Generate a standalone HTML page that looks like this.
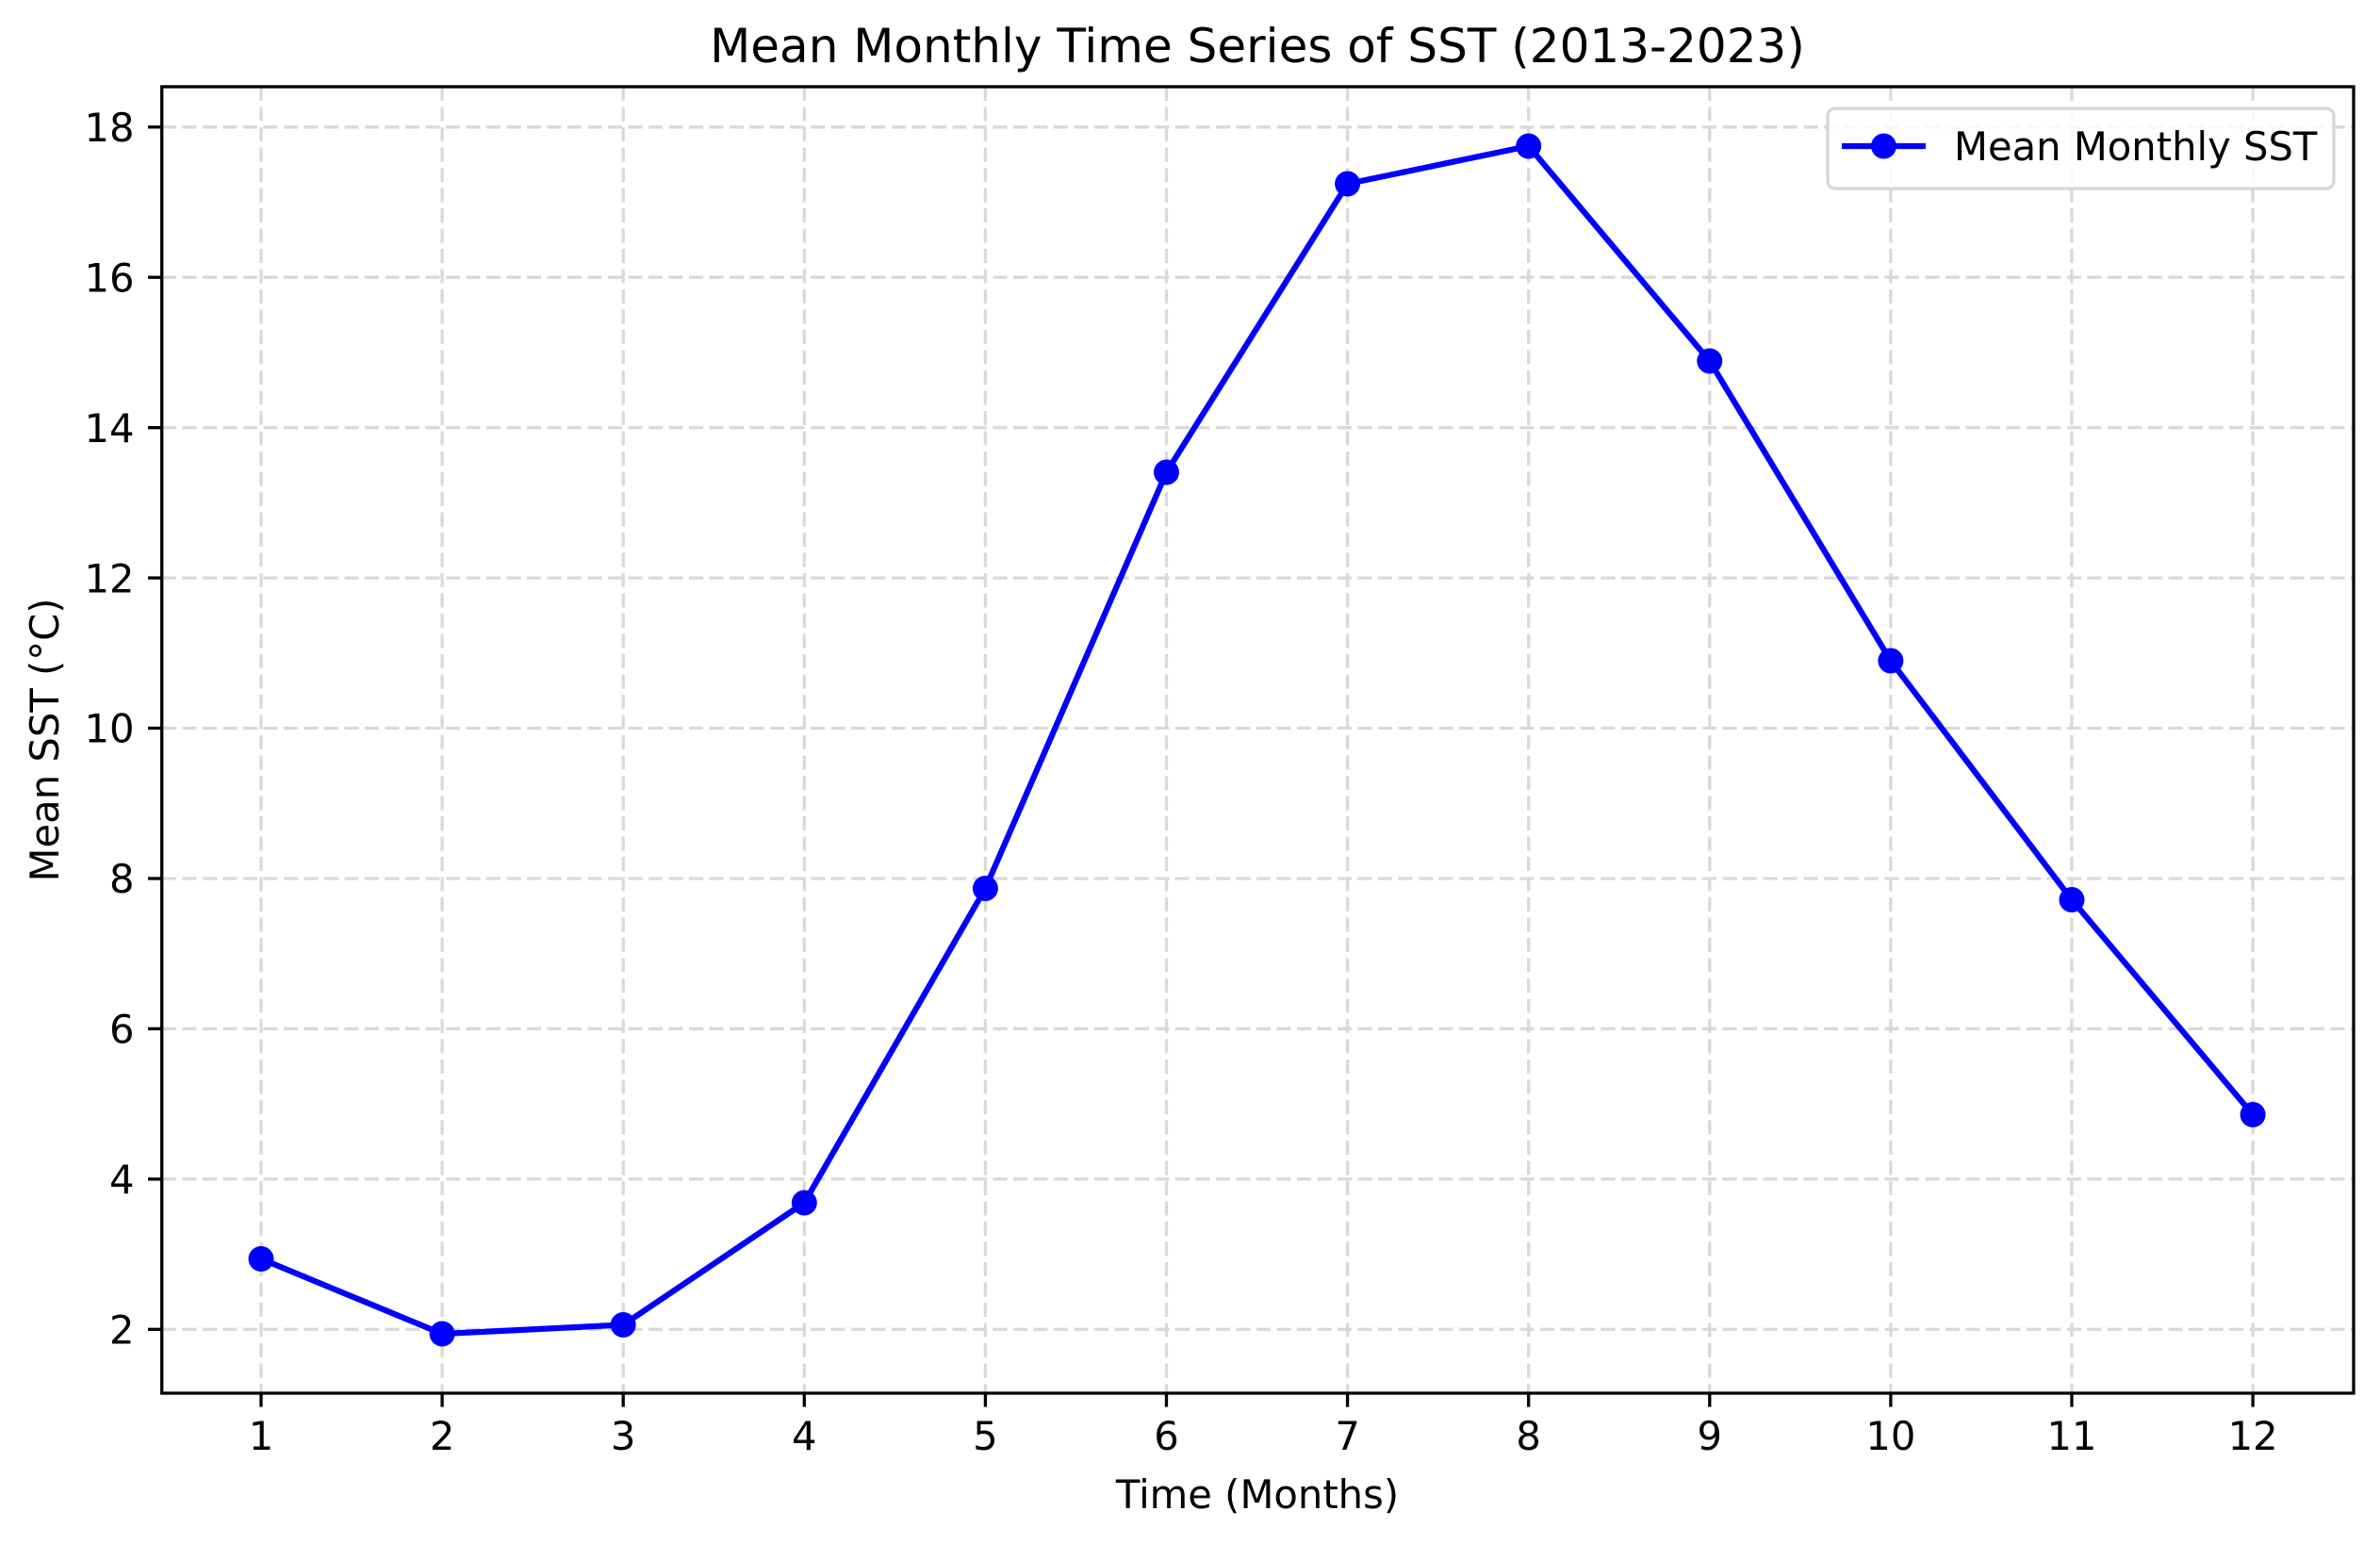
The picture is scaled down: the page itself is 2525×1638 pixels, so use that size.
<!DOCTYPE html>
<html><head><meta charset="utf-8"><style>
html,body{margin:0;padding:0;background:#fff;}
svg{display:block;}
text{font-family:"DejaVu Sans","Liberation Sans",sans-serif;fill:#000;}
</style></head><body>
<svg width="2525" height="1638" viewBox="0 0 2525 1638" xmlns="http://www.w3.org/2000/svg">
<rect width="2525" height="1638" fill="#fff"/>
<g stroke="#d9d9d9" stroke-width="3.3" stroke-dasharray="15,6.5" fill="none">
<line x1="277" y1="92" x2="277" y2="1478"/><line x1="469.1" y1="92" x2="469.1" y2="1478"/><line x1="661.2" y1="92" x2="661.2" y2="1478"/><line x1="853.3" y1="92" x2="853.3" y2="1478"/><line x1="1045.4" y1="92" x2="1045.4" y2="1478"/><line x1="1237.5" y1="92" x2="1237.5" y2="1478"/><line x1="1429.6" y1="92" x2="1429.6" y2="1478"/><line x1="1621.7" y1="92" x2="1621.7" y2="1478"/><line x1="1813.8" y1="92" x2="1813.8" y2="1478"/><line x1="2005.9" y1="92" x2="2005.9" y2="1478"/><line x1="2198" y1="92" x2="2198" y2="1478"/><line x1="2390.1" y1="92" x2="2390.1" y2="1478"/>
<line x1="172" y1="1410.3" x2="2497" y2="1410.3"/><line x1="172" y1="1250.9" x2="2497" y2="1250.9"/><line x1="172" y1="1091.4" x2="2497" y2="1091.4"/><line x1="172" y1="932" x2="2497" y2="932"/><line x1="172" y1="772.5" x2="2497" y2="772.5"/><line x1="172" y1="613.1" x2="2497" y2="613.1"/><line x1="172" y1="453.7" x2="2497" y2="453.7"/><line x1="172" y1="294.2" x2="2497" y2="294.2"/><line x1="172" y1="134.8" x2="2497" y2="134.8"/>
</g>
<polyline fill="none" stroke="#0000ff" stroke-width="6.25" stroke-linejoin="round" points="277,1335.5 469.1,1415 661.2,1405.5 853.3,1276 1045.4,942.5 1237.5,501 1429.6,195 1621.7,155 1813.8,383 2005.9,701 2198,954.5 2390.1,1182.5"/>
<g fill="#0000ff">
<circle cx="277" cy="1335.5" r="13.5"/><circle cx="469.1" cy="1415" r="13.5"/><circle cx="661.2" cy="1405.5" r="13.5"/><circle cx="853.3" cy="1276" r="13.5"/><circle cx="1045.4" cy="942.5" r="13.5"/><circle cx="1237.5" cy="501" r="13.5"/><circle cx="1429.6" cy="195" r="13.5"/><circle cx="1621.7" cy="155" r="13.5"/><circle cx="1813.8" cy="383" r="13.5"/><circle cx="2005.9" cy="701" r="13.5"/><circle cx="2198" cy="954.5" r="13.5"/><circle cx="2390.1" cy="1182.5" r="13.5"/>
</g>
<rect x="171.7" y="92" width="2325.3" height="1386" fill="none" stroke="#000" stroke-width="3.3"/>
<g stroke="#000" stroke-width="3.3">
<line x1="277" y1="1478" x2="277" y2="1492.6"/><line x1="469.1" y1="1478" x2="469.1" y2="1492.6"/><line x1="661.2" y1="1478" x2="661.2" y2="1492.6"/><line x1="853.3" y1="1478" x2="853.3" y2="1492.6"/><line x1="1045.4" y1="1478" x2="1045.4" y2="1492.6"/><line x1="1237.5" y1="1478" x2="1237.5" y2="1492.6"/><line x1="1429.6" y1="1478" x2="1429.6" y2="1492.6"/><line x1="1621.7" y1="1478" x2="1621.7" y2="1492.6"/><line x1="1813.8" y1="1478" x2="1813.8" y2="1492.6"/><line x1="2005.9" y1="1478" x2="2005.9" y2="1492.6"/><line x1="2198" y1="1478" x2="2198" y2="1492.6"/><line x1="2390.1" y1="1478" x2="2390.1" y2="1492.6"/>
<line x1="157" y1="1410.3" x2="171.7" y2="1410.3"/><line x1="157" y1="1250.9" x2="171.7" y2="1250.9"/><line x1="157" y1="1091.4" x2="171.7" y2="1091.4"/><line x1="157" y1="932" x2="171.7" y2="932"/><line x1="157" y1="772.5" x2="171.7" y2="772.5"/><line x1="157" y1="613.1" x2="171.7" y2="613.1"/><line x1="157" y1="453.7" x2="171.7" y2="453.7"/><line x1="157" y1="294.2" x2="171.7" y2="294.2"/><line x1="157" y1="134.8" x2="171.7" y2="134.8"/>
</g>
<g font-size="41.7" text-anchor="middle">
<text x="277" y="1538">1</text><text x="469.1" y="1538">2</text><text x="661.2" y="1538">3</text><text x="853.3" y="1538">4</text><text x="1045.4" y="1538">5</text><text x="1237.5" y="1538">6</text><text x="1429.6" y="1538">7</text><text x="1621.7" y="1538">8</text><text x="1813.8" y="1538">9</text><text x="2005.9" y="1538">10</text><text x="2198" y="1538">11</text><text x="2390.1" y="1538">12</text>
</g>
<g font-size="41.7" text-anchor="end">
<text x="142.5" y="1425.5">2</text><text x="142.5" y="1266.1">4</text><text x="142.5" y="1106.6">6</text><text x="142.5" y="947.2">8</text><text x="142.5" y="787.7">10</text><text x="142.5" y="628.3">12</text><text x="142.5" y="468.9">14</text><text x="142.5" y="309.4">16</text><text x="142.5" y="150">18</text>
</g>
<text x="1334" y="1600" font-size="41.7" text-anchor="middle">Time (Months)</text>
<text transform="translate(62,785) rotate(-90)" font-size="41.7" text-anchor="middle">Mean SST (°C)</text>
<text x="1334" y="66" font-size="50" text-anchor="middle">Mean Monthly Time Series of SST (2013-2023)</text>
<rect x="1939" y="115" width="537" height="85" rx="8" fill="#fff" fill-opacity="0.8" stroke="#d6d6d6" stroke-width="3.3"/>
<line x1="1954" y1="155" x2="2043" y2="155" stroke="#0000ff" stroke-width="6.25"/>
<circle cx="1998.5" cy="155" r="13.5" fill="#0000ff"/>
<text x="2073" y="170" font-size="41.7">Mean Monthly SST</text>
</svg>
</body></html>
